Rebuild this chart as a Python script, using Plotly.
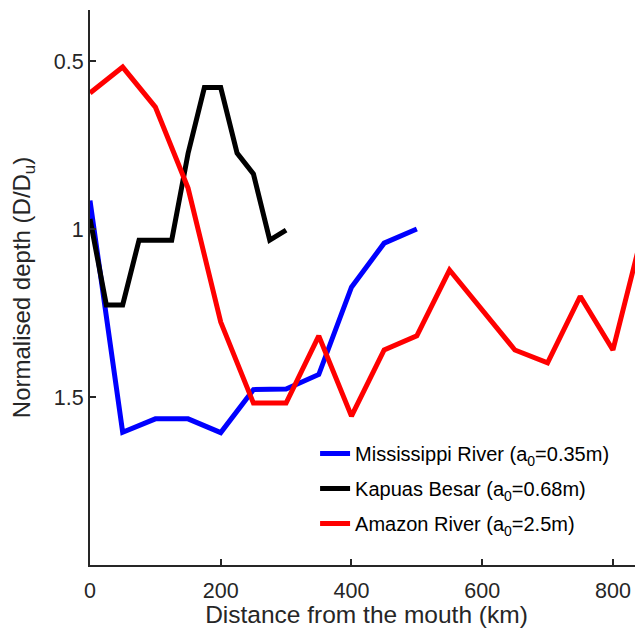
import plotly.graph_objects as go

# Mississippi River
miss_x = [0, 50, 100, 150, 200, 250, 300, 350, 400, 450, 500]
miss_y = [0.915, 1.605, 1.565, 1.565, 1.606, 1.478, 1.476, 1.433, 1.173, 1.042, 1.0]

# Kapuas Besar
kap_x = [0, 25, 50, 75, 125, 150, 175, 200, 225, 250, 275, 300]
kap_y = [0.97, 1.226, 1.226, 1.033, 1.033, 0.775, 0.579, 0.579, 0.774, 0.836, 1.033, 1.003]

# Amazon River
amz_x = [0, 50, 100, 150, 200, 250, 300, 350, 400, 450, 500, 550, 650, 700, 750, 800, 850]
amz_y = [0.595, 0.518, 0.637, 0.878, 1.277, 1.518, 1.518, 1.318, 1.557, 1.36, 1.318, 1.122,
         1.36, 1.398, 1.2, 1.36, 0.975]

x_ticks = [0, 200, 400, 600, 800]
y_ticks = [0.5, 1, 1.5]
y_tick_text = ["0.5", "1", "1.5"]

FONT = "Liberation Sans, Arial, Helvetica, sans-serif"
AX = "#262626"

fig = go.Figure()
fig.add_trace(go.Scatter(x=miss_x, y=miss_y, mode="lines", legendgroup="m",
                         line=dict(color="#0000FF", width=5),
                         name="Mississippi River (a<sub>0</sub>=0.35m)"))
fig.add_trace(go.Scatter(x=kap_x, y=kap_y, mode="lines", legendgroup="k",
                         line=dict(color="#000000", width=5),
                         name="Kapuas Besar (a<sub>0</sub>=0.68m)"))
fig.add_trace(go.Scatter(x=amz_x, y=amz_y, mode="lines", legendgroup="a",
                         line=dict(color="#FF0000", width=5),
                         name="Amazon River (a<sub>0</sub>=2.5m)"))

fig.update_layout(
    width=635, height=620,
    margin=dict(l=82, r=0, t=2, b=63),
    plot_bgcolor="white", paper_bgcolor="white",
    font=dict(family=FONT, color=AX, size=21.5),
    showlegend=True,
    legend=dict(x=0.407, y=0.236, xanchor="left", yanchor="top",
                traceorder="grouped", tracegroupgap=6,
                bgcolor="rgba(0,0,0,0)", font=dict(size=20, color="#000000"),
                itemwidth=30),
)
fig.update_xaxes(
    range=[0, 846], tickvals=x_ticks, ticktext=[str(v) for v in x_ticks],
    showgrid=False, zeroline=False, showline=True, linecolor=AX, linewidth=2,
    ticks="inside", ticklen=6, tickwidth=2, tickcolor=AX, ticklabelstandoff=5,
    tickfont=dict(size=21.5, color=AX),
    title=dict(text="Distance from the mouth (km)", font=dict(size=24.5, color=AX), standoff=7),
)
fig.update_yaxes(
    range=[2.0, 0.348], tickvals=y_ticks, ticktext=y_tick_text,
    showgrid=False, zeroline=False, showline=True, linecolor=AX, linewidth=2,
    ticks="inside", ticklen=6, tickwidth=2, tickcolor=AX,
    tickfont=dict(size=21.5, color=AX),
    title=dict(text="Normalised depth (D/D<sub>u</sub>)", font=dict(size=24, color=AX), standoff=17),
)

fig.write_html("out.html")
